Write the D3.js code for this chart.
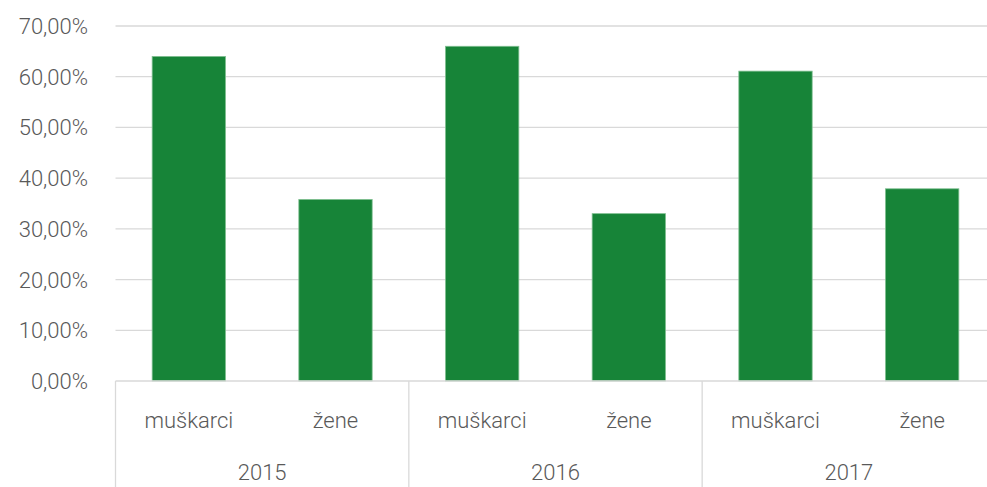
<!DOCTYPE html>
<html>
<head>
<meta charset="utf-8">
<script src="https://cdn.jsdelivr.net/npm/d3@7"></script>
<style>
  html, body { margin: 0; padding: 0; background: #fff; overflow: hidden; }
  svg { display: block; font-family: Roboto, "Noto Sans", sans-serif; font-weight: 300; }
</style>
</head>
<body>
<svg id="chart" width="987" height="487"></svg>
<script>
// Share by gender per year (%)
const years = ["2015", "2016", "2017"];
const genders = ["muškarci", "žene"];
const values = [64.0, 35.8, 66.0, 33.0, 61.1, 37.9];
const yTicks = [0, 10, 20, 30, 40, 50, 60, 70];

const rows = [];
years.forEach((yr, i) => genders.forEach((g, j) => {
  rows.push({ key: yr + "|" + g, year: yr, gender: g, value: values[i * genders.length + j] });
}));

const svg = d3.select("#chart");
const plotLeft = 115.5, plotRight = 995.5, plotTop = 26, plotBottom = 381;
const textColor = "#595959";
const gridColor = "#d9d9d9";

const x = d3.scaleBand().domain(rows.map(d => d.key)).range([plotLeft, plotRight]).paddingInner(0.5).paddingOuter(0.25);
const xYear = d3.scaleBand().domain(years).range([plotLeft, plotRight]);
const y = d3.scaleLinear().domain([0, 70]).range([plotBottom, plotTop]);

const fmt = v => d3.format(".2f")(v).replace(".", ",") + "%";

// horizontal gridlines
svg.append("g").selectAll("line").data(yTicks.filter(t => t > 0)).join("line")
  .attr("x1", plotLeft).attr("x2", 987)
  .attr("y1", d => y(d)).attr("y2", d => y(d))
  .attr("stroke", gridColor).attr("stroke-width", 1.3);

// y axis labels
const yAxis = d3.axisLeft(y).tickValues(yTicks).tickFormat(fmt).tickSize(0).tickPadding(0);
const gy = svg.append("g").attr("transform", `translate(88,0)`).call(yAxis);
gy.select(".domain").remove();
gy.selectAll("text").attr("fill", textColor).style("font-size", "22px")
  .style("font-family", "Roboto, sans-serif").style("font-weight", 300).attr("dy", "0.34em");

// bars
svg.append("g").selectAll("rect").data(rows).join("rect")
  .attr("x", d => x(d.key)).attr("width", x.bandwidth())
  .attr("y", d => y(d.value)).attr("height", d => y(0) - y(d.value))
  .attr("fill", "#178438").attr("stroke", "#7fbf90").attr("stroke-width", 0.8);

// baseline
svg.append("line").attr("x1", plotLeft).attr("x2", 987).attr("y1", plotBottom).attr("y2", plotBottom)
  .attr("stroke", gridColor).attr("stroke-width", 1.3);

// group separators
const seps = years.map(yr => xYear(yr));
svg.append("g").selectAll("line").data(seps).join("line")
  .attr("x1", d => d).attr("x2", d => d).attr("y1", plotBottom).attr("y2", 487)
  .attr("stroke", gridColor).attr("stroke-width", 1.3);

// category labels
svg.append("g").selectAll("text").data(rows).join("text")
  .attr("x", d => x(d.key) + x.bandwidth() / 2).attr("y", 428)
  .attr("text-anchor", "middle").attr("fill", textColor).style("font-size", "22px")
  .text(d => d.gender);

// year labels
svg.append("g").selectAll("text").data(years).join("text")
  .attr("x", d => xYear(d) + xYear.bandwidth() / 2).attr("y", 480)
  .attr("text-anchor", "middle").attr("fill", textColor).style("font-size", "22px")
  .text(d => d);
</script>
</body>
</html>
